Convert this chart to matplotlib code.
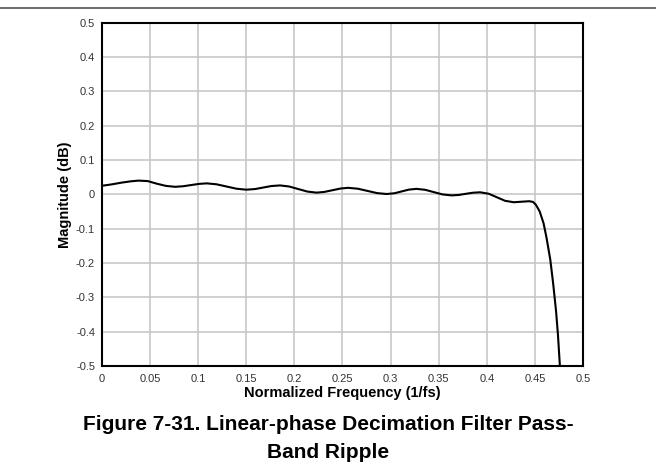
import matplotlib
matplotlib.use("Agg")
import matplotlib.pyplot as plt

plt.rcParams['font.family'] = ['Liberation Sans', 'DejaVu Sans']

# pass-band ripple
freq = [0.0, 0.01, 0.02, 0.03, 0.038,
        0.0475, 0.057, 0.0665, 0.076,
        0.084, 0.0925, 0.101, 0.109,
        0.119, 0.1295, 0.140, 0.150,
        0.159, 0.1675, 0.176, 0.185,
        0.1945, 0.204, 0.2135, 0.223,
        0.231, 0.2395, 0.248, 0.256,
        0.266, 0.276, 0.286, 0.296,
        0.304, 0.3115, 0.319, 0.327,
        0.336, 0.345, 0.354, 0.3635,
        0.371, 0.378, 0.3855, 0.393,
        0.402, 0.4105, 0.419, 0.428,
        0.436, 0.444,
        0.448, 0.451, 0.455, 0.459, 0.462, 0.466, 0.469, 0.472, 0.474, 0.476, 0.478]
mag = [0.025, 0.029, 0.034, 0.038, 0.040,
       0.0387, 0.031, 0.0246, 0.022,
       0.0235, 0.027, 0.0305, 0.032,
       0.0293, 0.0228, 0.0163, 0.0136,
       0.0154, 0.0198, 0.0242, 0.026,
       0.0229, 0.0155, 0.0081, 0.005,
       0.007, 0.012, 0.017, 0.019,
       0.0164, 0.010, 0.0036, 0.001,
       0.0032, 0.0085, 0.0138, 0.016,
       0.0132, 0.0065, -0.0002, -0.003,
       -0.0017, 0.0015, 0.0047, 0.006,
       0.0018, -0.0085, -0.0188, -0.023,
       -0.0215, -0.020,
       -0.022, -0.030, -0.050, -0.084, -0.125, -0.19, -0.26, -0.34, -0.41, -0.5, -0.6]

xticks = [0, 0.05, 0.1, 0.15, 0.2, 0.25, 0.3, 0.35, 0.4, 0.45, 0.5]
xlabels = ['0', '0.05', '0.1', '0.15', '0.2', '0.25', '0.3', '0.35', '0.4', '0.45', '0.5']
yticks = [-0.5, -0.4, -0.3, -0.2, -0.1, 0, 0.1, 0.2, 0.3, 0.4, 0.5]
ylabels = ['-0.5', '-0.4', '-0.3', '-0.2', '-0.1', '0', '0.1', '0.2', '0.3', '0.4', '0.5']

fig = plt.figure(figsize=(6.56, 4.76), dpi=100)
ax = fig.add_axes([0.1555, 0.2311, 0.7332, 0.7212])

ax.plot(freq, mag, color='black', lw=1.5, solid_joinstyle='round')
ax.set_xlim(0, 0.5)
ax.set_ylim(-0.5, 0.5)
ax.set_xticks(xticks)
ax.set_xticklabels(xlabels)
ax.set_yticks(yticks)
ax.set_yticklabels(ylabels)
ax.grid(True, color='#c8c8c8', lw=1.2)
ax.set_axisbelow(True)
ax.tick_params(length=0, labelsize=8, labelcolor='#333333')
ax.tick_params(axis='x', pad=6)
ax.tick_params(axis='y', pad=5)
for s in ax.spines.values():
    s.set_linewidth(1.5)
    s.set_color('black')

ax.set_xlabel('Normalized Frequency (1/fs)', fontsize=10.5, fontweight='bold')
ax.set_ylabel('Magnitude (dB)', fontsize=10.5, fontweight='bold')
ax.xaxis.set_label_coords(0.5, -0.058)
ax.yaxis.set_label_coords(-0.062, 0.5)

# document rule and caption
fig.add_artist(plt.Line2D([0, 1], [1 - 8 / 476, 1 - 8 / 476], color='#555555', lw=1.2))
fig.text(0.5, 1 - 424 / 476, 'Figure 7-31. Linear-phase Decimation Filter Pass-',
         ha='center', va='center', fontsize=15, fontweight='bold')
fig.text(0.5, 1 - 452 / 476, 'Band Ripple',
         ha='center', va='center', fontsize=15, fontweight='bold')

fig.savefig('out.png', dpi=100)
